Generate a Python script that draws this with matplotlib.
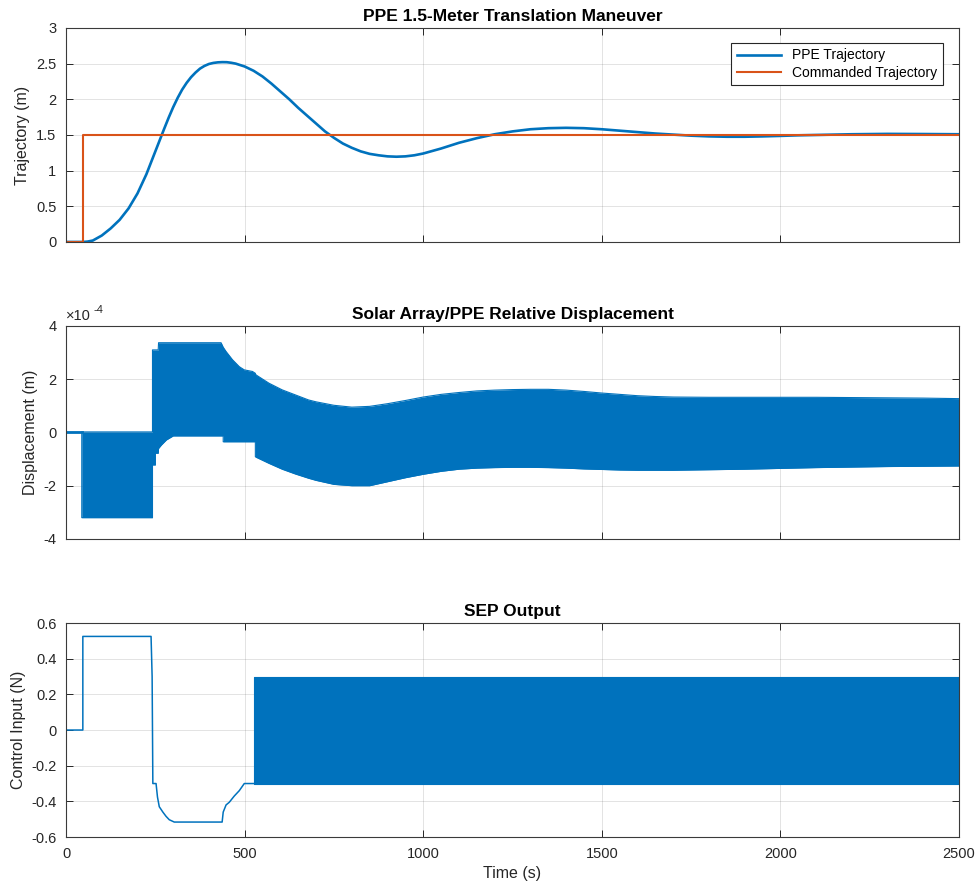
import numpy as np
import matplotlib
matplotlib.use("Agg")
import matplotlib.pyplot as plt

plt.rcParams['font.family'] = ['Liberation Sans', 'DejaVu Sans']
plt.rcParams['axes.unicode_minus'] = False

BLUE = '#0072BD'
ORANGE = '#D95319'
AX_COLOR = '#262626'

# --- PPE trajectory (m) ---
traj_t = [0, 47, 60, 75, 100, 125, 150, 175, 200, 225, 250, 262.5, 275,
          287.5, 300, 312.5, 325, 337.5, 350, 362.5, 375, 387.5, 400, 412.5,
          425, 437.5, 450, 462.5, 475, 500, 525, 550, 575, 600, 625, 650,
          675, 700, 725, 750, 775, 800, 825, 850, 875, 900, 925, 950, 975,
          1000, 1050, 1100, 1150, 1200, 1250, 1300, 1350, 1400, 1450, 1500,
          1550, 1600, 1650, 1700, 1750, 1800, 1850, 1900, 1950, 2000, 2050,
          2100, 2200, 2300, 2400, 2500]
traj_y = [0, 0, 0.005, 0.02, 0.09, 0.19, 0.31, 0.47, 0.68, 0.95, 1.27, 1.43,
          1.59, 1.745, 1.89, 2.02, 2.135, 2.23, 2.31, 2.375, 2.43, 2.468,
          2.495, 2.51, 2.518, 2.521, 2.52, 2.512, 2.5, 2.46, 2.4, 2.32,
          2.22, 2.11, 2.0, 1.88, 1.77, 1.66, 1.55, 1.46, 1.38, 1.32, 1.27,
          1.235, 1.215, 1.2, 1.195, 1.2, 1.215, 1.24, 1.31, 1.39, 1.455,
          1.51, 1.55, 1.58, 1.595, 1.6, 1.595, 1.58, 1.56, 1.54, 1.52,
          1.505, 1.49, 1.48, 1.475, 1.475, 1.48, 1.487, 1.495, 1.5, 1.51,
          1.515, 1.513, 1.51]

cmd_t = [0, 47, 47, 2500]
cmd_y = [0, 0, 1.5, 1.5]

# --- solar array relative displacement, oscillation envelope (x1e-4 m) ---
disp_t = [0, 44, 44, 242, 242, 250, 250, 258, 259, 267, 281, 300, 434, 440,
          440, 448, 466, 485, 499, 522, 530, 530, 532, 568, 605, 642, 679,
          700, 750, 800, 850, 900, 950, 1000, 1050, 1100, 1150, 1200, 1250,
          1300, 1350, 1400, 1450, 1500, 1550, 1600, 1650, 1700, 1800, 1900,
          2000, 2100, 2200, 2300, 2400, 2500]
disp_hi = [0, 0, 0.02, 0.02, 3.1, 3.1, 3.1, 3.1, 3.37, 3.37, 3.37, 3.37,
           3.37, 3.2, 3.2, 3.04, 2.73, 2.47, 2.35, 2.29, 2.22, 2.2, 2.16,
           1.85, 1.6, 1.41, 1.22, 1.15, 1.02, 0.95, 0.98, 1.08, 1.2, 1.33,
           1.43, 1.5, 1.56, 1.59, 1.61, 1.62, 1.62, 1.59, 1.54, 1.48, 1.43,
           1.38, 1.35, 1.33, 1.32, 1.32, 1.32, 1.32, 1.31, 1.3, 1.29, 1.27]
disp_lo = [0, 0, -3.2, -3.2, -1.22, -1.22, -0.78, -0.78, -0.6, -0.47, -0.28,
           -0.13, -0.13, -0.13, -0.35, -0.35, -0.35, -0.35, -0.35, -0.35,
           -0.35, -0.91, -0.93, -1.16, -1.38, -1.56, -1.72, -1.8, -1.95,
           -2.0, -2.0, -1.85, -1.7, -1.57, -1.46, -1.38, -1.34, -1.32, -1.31,
           -1.31, -1.32, -1.34, -1.37, -1.39, -1.41, -1.42, -1.42, -1.42,
           -1.4, -1.38, -1.35, -1.32, -1.3, -1.28, -1.27, -1.26]
disp_ticks = [-4, -2, 0, 2, 4]

# --- SEP control input (N) ---
sep_t = [0, 47, 47, 238, 241, 243, 252, 256, 261, 271, 280, 289, 303, 437,
         440, 448, 457, 471, 485, 499, 527]
sep_y = [0, 0, 0.525, 0.525, 0.3, -0.3, -0.3, -0.376, -0.43, -0.46, -0.484,
         -0.503, -0.516, -0.516, -0.46, -0.42, -0.405, -0.37, -0.34, -0.3,
         -0.3]
sep_band_t = [527, 2500]
sep_band_hi = [0.3, 0.3]
sep_band_lo = [-0.3, -0.3]


def style_axes(ax):
    ax.set_xlim(0, 2500)
    ax.set_xticks([0, 500, 1000, 1500, 2000, 2500])
    ax.grid(True, color=AX_COLOR, alpha=0.13, linewidth=0.7)
    ax.set_axisbelow(True)
    ax.tick_params(direction='in', top=True, right=True, length=5,
                   width=0.7, colors=AX_COLOR, labelsize=10.5,
                   labelcolor=AX_COLOR, pad=7)
    for s in ax.spines.values():
        s.set_color('#3a3a3a')
        s.set_linewidth(0.8)


fig = plt.figure(figsize=(9.77, 8.85), dpi=100)

ax1 = fig.add_axes([0.0676, 0.7266, 0.914, 0.2418])
ax2 = fig.add_axes([0.0676, 0.3910, 0.914, 0.2407])
ax3 = fig.add_axes([0.0676, 0.0542, 0.914, 0.2418])

# trajectory
ax1.plot(traj_t, traj_y, color=BLUE, lw=1.9, label='PPE Trajectory')
ax1.plot(cmd_t, cmd_y, color=ORANGE, lw=1.5, label='Commanded Trajectory')
ax1.set_ylim(0, 3)
ax1.set_yticks([0, 0.5, 1, 1.5, 2, 2.5, 3])
ax1.set_yticklabels(['0', '0.5', '1', '1.5', '2', '2.5', '3'])
ax1.set_ylabel('Trajectory (m)', fontsize=11.5, color=AX_COLOR)
ax1.set_title('PPE 1.5-Meter Translation Maneuver', fontsize=12.5,
              fontweight='bold', pad=5)
style_axes(ax1)
ax1.set_xticklabels([])
leg = ax1.legend(loc='upper right', fontsize=10, fancybox=False,
                 framealpha=1, edgecolor=AX_COLOR, handlelength=3.2,
                 borderpad=0.4, labelspacing=0.25,
                 bbox_to_anchor=(0.99, 0.963))
leg.get_frame().set_linewidth(0.8)

# displacement
scale = 1e-4
d_t = np.array(disp_t)
d_hi = np.array(disp_hi) * scale
d_lo = np.array(disp_lo) * scale
ax2.fill_between(d_t, d_lo, d_hi, color=BLUE, lw=0)
ax2.plot(d_t, d_hi, color=BLUE, lw=0.8)
ax2.plot(d_t, d_lo, color=BLUE, lw=0.8)
ax2.plot([0, 44], [0, 0], color=BLUE, lw=2)
ax2.set_ylim(-4 * scale, 4 * scale)
ax2.set_yticks([v * scale for v in disp_ticks])
ax2.set_yticklabels([str(v) for v in disp_ticks])
ax2.annotate('×10', xy=(0, 1), xycoords='axes fraction', xytext=(0, 2),
             textcoords='offset points', ha='left', va='bottom',
             fontsize=10.5, color=AX_COLOR)
ax2.annotate('-4', xy=(0, 1), xycoords='axes fraction', xytext=(20, 8),
             textcoords='offset points', ha='left', va='bottom',
             fontsize=8, color=AX_COLOR)
ax2.set_ylabel('Displacement (m)', fontsize=11.5, color=AX_COLOR)
ax2.set_title('Solar Array/PPE Relative Displacement', fontsize=12.5,
              fontweight='bold', pad=5)
style_axes(ax2)
ax2.set_xticklabels([])

# SEP output
ax3.plot(sep_t, sep_y, color=BLUE, lw=1.1)
ax3.fill_between(sep_band_t, sep_band_lo, sep_band_hi, color=BLUE, lw=0.8,
                 edgecolor=BLUE)
ax3.set_ylim(-0.6, 0.6)
ax3.set_yticks([-0.6, -0.4, -0.2, 0, 0.2, 0.4, 0.6])
ax3.set_yticklabels(['-0.6', '-0.4', '-0.2', '0', '0.2', '0.4', '0.6'])
ax3.set_ylabel('Control Input (N)', fontsize=11.5, color=AX_COLOR)
ax3.set_xlabel('Time (s)', fontsize=11.5, color=AX_COLOR)
ax3.set_title('SEP Output', fontsize=12.5, fontweight='bold', pad=5)
style_axes(ax3)

fig.savefig('out.png', dpi=100)
